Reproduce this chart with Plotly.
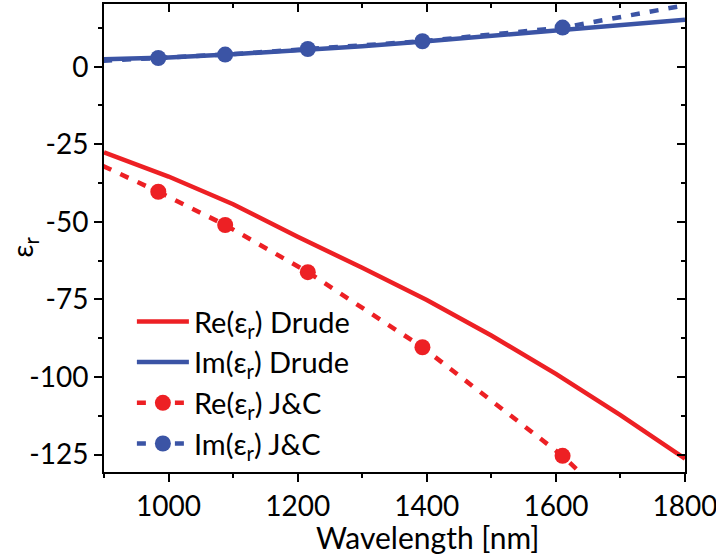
import plotly.graph_objects as go

# ---- data ----
wl_drude = [900, 1000, 1100, 1200, 1300, 1400, 1500, 1600, 1700, 1800]
re_drude = [-27.6, -35.4, -44.3, -54.8, -64.8, -75.2, -86.6, -99.0, -112.3, -126.3]
im_drude = [2.4, 3.0, 4.0, 5.2, 6.6, 8.2, 9.9, 11.8, 13.5, 15.1]

wl_jc = [898.6, 984.1, 1087.7, 1215.7, 1393.3, 1610.4, 1937.5]
re_jc = [-32.0, -40.3, -51.0, -66.2, -90.4, -125.4, -189.9]
im_jc = [1.9, 2.8, 3.9, 5.7, 8.2, 12.6, 25.0]

x_tickvals = [1000, 1200, 1400, 1600, 1800]
x_ticktext = ["1000", "1200", "1400", "1600", "1800"]
y_tickvals = [0, -25, -50, -75, -100, -125]
y_ticktext = ["0", "-25", "-50", "-75", "-100", "-125"]

x_range = [900, 1800]
y_range = [-130.6, 20.2]

RED = "#ED2024"
BLUE = "#3B54A5"
FONT = "Lato"
LW = 4.5
DASH = "9px,10px"
MS = 16

fig = go.Figure()

fig.add_trace(go.Scatter(x=wl_drude, y=re_drude, mode="lines", name="Re(ε<sub>r</sub>) Drude",
                         line=dict(color=RED, width=LW)))
fig.add_trace(go.Scatter(x=wl_drude, y=im_drude, mode="lines", name="Im(ε<sub>r</sub>) Drude",
                         line=dict(color=BLUE, width=LW)))
# first J&C segment (no marker there)
fig.add_trace(go.Scatter(x=wl_jc[:2], y=re_jc[:2], mode="lines", showlegend=False,
                         line=dict(color=RED, width=LW, dash=DASH)))
fig.add_trace(go.Scatter(x=wl_jc[:2], y=im_jc[:2], mode="lines", showlegend=False,
                         line=dict(color=BLUE, width=LW, dash=DASH)))
fig.add_trace(go.Scatter(x=wl_jc[1:], y=re_jc[1:], mode="lines+markers", name="Re(ε<sub>r</sub>) J&C",
                         line=dict(color=RED, width=LW, dash=DASH),
                         marker=dict(color=RED, size=MS)))
fig.add_trace(go.Scatter(x=wl_jc[1:], y=im_jc[1:], mode="lines+markers", name="Im(ε<sub>r</sub>) J&C",
                         line=dict(color=BLUE, width=LW, dash=DASH),
                         marker=dict(color=BLUE, size=MS)))
# dummy trace for the mirrored (inside-tick) axes
fig.add_trace(go.Scatter(x=[None], y=[None], xaxis="x2", yaxis="y2", showlegend=False,
                         hoverinfo="skip"))

tickfont = dict(family=FONT, size=28, color="black")
xminor = dict(tickmode="linear", dtick=100, tick0=900, ticklen=4, tickwidth=2,
              tickcolor="black", showgrid=False)
yminor = dict(tickmode="linear", dtick=12.5, tick0=0, ticklen=4, tickwidth=2,
              tickcolor="black", showgrid=False)

fig.update_layout(
    width=716, height=554,
    margin=dict(l=104, r=31, t=4, b=82, autoexpand=False),
    paper_bgcolor="white", plot_bgcolor="white",
    showlegend=True,
    legend=dict(x=0.048, y=0.376, xanchor="left", yanchor="top",
                font=dict(family=FONT, size=29, color="black"),
                itemwidth=52,
                bgcolor="rgba(0,0,0,0)", borderwidth=0, tracegroupgap=0),
    xaxis=dict(range=x_range, showline=True, linecolor="black", linewidth=2, mirror=True,
               ticks="outside", ticklen=8, tickwidth=2, tickcolor="black",
               tickmode="array", tickvals=x_tickvals, ticktext=x_ticktext,
               ticklabeloverflow="allow", automargin=False,
               showgrid=False, zeroline=False, tickfont=tickfont,
               minor=dict(ticks="outside", **xminor)),
    yaxis=dict(range=y_range, showline=True, linecolor="black", linewidth=2, mirror=True,
               ticks="outside", ticklen=8, tickwidth=2, tickcolor="black",
               tickmode="array", tickvals=y_tickvals, ticktext=y_ticktext,
               automargin=False,
               showgrid=False, zeroline=False, tickfont=tickfont,
               minor=dict(ticks="outside", **yminor)),
    xaxis2=dict(range=x_range, overlaying="x", side="top", showline=False,
                ticks="inside", ticklen=8, tickwidth=2, tickcolor="black",
                tickmode="array", tickvals=x_tickvals, automargin=False,
                showticklabels=False, showgrid=False, zeroline=False,
                minor=dict(ticks="inside", **xminor)),
    yaxis2=dict(range=y_range, overlaying="y", side="right", showline=False,
                ticks="inside", ticklen=8, tickwidth=2, tickcolor="black",
                tickmode="array", tickvals=y_tickvals, automargin=False,
                showticklabels=False, showgrid=False, zeroline=False,
                minor=dict(ticks="inside", **yminor)),
    annotations=[
        dict(text="Wavelength [nm]", xref="paper", yref="paper", x=0.556, y=-0.138,
             xanchor="center", yanchor="middle", showarrow=False,
             font=dict(family=FONT, size=30, color="black")),
        dict(text="ε<sub>r</sub>", xref="paper", yref="paper", x=-0.138, y=0.481,
             xanchor="center", yanchor="middle", showarrow=False, textangle=-90,
             font=dict(family=FONT, size=29, color="black")),
    ],
)

fig.write_html("out.html")
